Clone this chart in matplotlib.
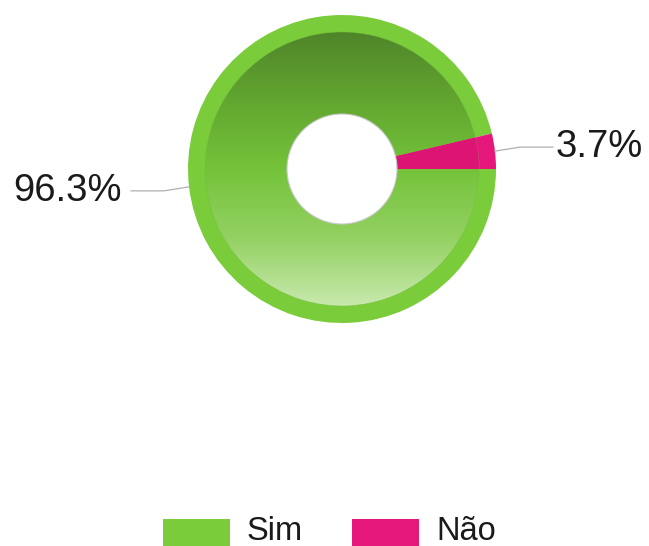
import numpy as np
import matplotlib.pyplot as plt
from matplotlib.patches import Circle, Rectangle
from matplotlib.colors import LinearSegmentedColormap

plt.rcParams['font.family'] = ['Liberation Sans', 'DejaVu Sans']

# answer shares (percent)
labels = ["Sim", "Não"]
shares = [96.3, 3.7]
colors = ["#7acc3a", "#e6177a"]

W, H = 649, 546
fig = plt.figure(figsize=(W / 100, H / 100), dpi=100)
ax = fig.add_axes([0, 0, 1, 1])

cx, cy = 342, H - 169
r_out, r_in, r_hole = 154, 137, 55

# flat outer rim (and the full pink slice)
wedges, _ = ax.pie(shares, colors=colors, radius=r_out, center=(cx, cy),
                   startangle=0, counterclock=False,
                   wedgeprops=dict(width=r_out - r_hole, linewidth=0))

# inner band: green slice gets a vertical shading, pink stays flat
inner, _ = ax.pie(shares, colors=["none", "#dc1574"], radius=r_in, center=(cx, cy),
                  startangle=0, counterclock=False,
                  wedgeprops=dict(width=r_in - r_hole, linewidth=0))
inner[1].set_zorder(3)
shade = LinearSegmentedColormap.from_list(
    "shade", ["#c8e9ad", "#93d162", "#74c33a", "#62a630", "#4f852a"])
grad = np.linspace(0, 1, 256).reshape(-1, 1)
img = ax.imshow(grad, cmap=shade, origin="lower", aspect="auto", zorder=2,
                extent=(cx - r_in, cx + r_in, cy - r_in, cy + r_in))
img.set_clip_path(inner[0])

ax.add_patch(Circle((cx, cy), r_in, fill=False, edgecolor="#72bd3a", lw=0.5, alpha=0.6, zorder=2.5))
ax.add_patch(Circle((cx, cy), r_hole, facecolor="white", edgecolor="#c8c8c8", lw=0.8, zorder=4))

# value labels with leader lines from slice midpoints
for w, share in zip(wedges, shares):
    mid = np.deg2rad((w.theta1 + w.theta2) / 2)
    ex, ey = cx + r_out * np.cos(mid), cy + r_out * np.sin(mid)
    side = 1 if np.cos(mid) >= 0 else -1
    lx, ly = ex + side * 58, ey + 4 * np.sign(np.sin(mid))
    ax.plot([ex, ex + side * 25, lx], [ey, ly, ly], color="#b0b0b0", lw=0.9, zorder=1)
    gap = 3 if side > 0 else 9
    ax.text(lx + side * gap, ly, f"{share:.1f}%", fontsize=27.5, color="#1a1a1a",
            ha="left" if side > 0 else "right", va="center")

# legend along the bottom
for x0, lab, col in zip([163, 352], labels, colors):
    ax.add_patch(Rectangle((x0, -10), 67, 37, facecolor=col, edgecolor="none"))
    ax.text(x0 + 84, 15, lab, fontsize=23.5, color="#1a1a1a", ha="left", va="center")

ax.set_xlim(0, W)
ax.set_ylim(0, H)
ax.set_aspect("auto")
ax.axis("off")
fig.savefig("out.png", dpi=100)
